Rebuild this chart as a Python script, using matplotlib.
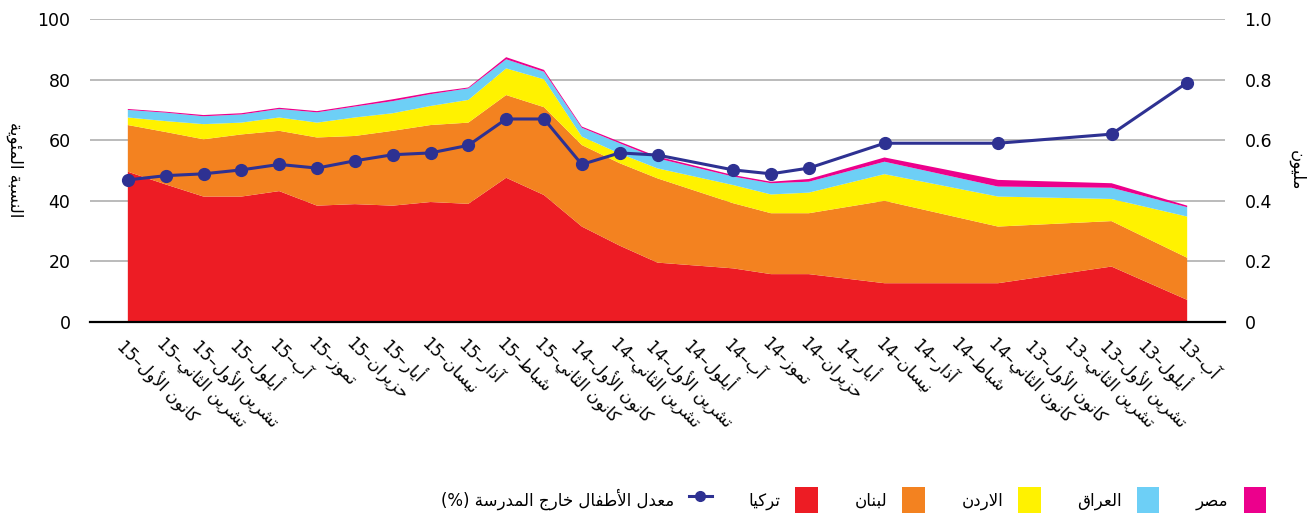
import matplotlib
matplotlib.use("Agg")
import matplotlib.pyplot as plt
from matplotlib.patches import Patch
from matplotlib.lines import Line2D

# ---------------- data ----------------
# all month labels, chronological (Aug-13 ... Dec-15)
months = ["آب–13", "أيلول–13", "تشرين الأول–13", "تشرين الثاني–13", "كانون الأول–13",
          "كانون الثاني–14", "شباط–14", "آذار–14", "نيسان–14", "أيار–14", "حزيران–14",
          "تموز–14", "آب–14", "أيلول–14", "تشرين الأول–14", "تشرين الثاني–14", "كانون الأول–14",
          "كانون الثاني–15", "شباط–15", "آذار–15", "نيسان–15", "أيار–15", "حزيران–15",
          "تموز–15", "آب–15", "أيلول–15", "تشرين الأول–15", "تشرين الثاني–15", "كانون الأول–15"]

# months that carry data
data_months = ["آب–13", "تشرين الأول–13", "كانون الثاني–14", "نيسان–14", "حزيران–14",
               "تموز–14", "آب–14", "تشرين الأول–14", "تشرين الثاني–14", "كانون الأول–14",
               "كانون الثاني–15", "شباط–15", "آذار–15", "نيسان–15", "أيار–15", "حزيران–15",
               "تموز–15", "آب–15", "أيلول–15", "تشرين الأول–15", "تشرين الثاني–15", "كانون الأول–15"]

# number of school-age children (million)
turkey = [0.073, 0.183, 0.128, 0.128, 0.158, 0.158, 0.177, 0.196, 0.252, 0.315, 0.419,
          0.476, 0.390, 0.396, 0.384, 0.389, 0.384, 0.432, 0.414, 0.414, 0.454, 0.496]
lebanon = [0.139, 0.150, 0.187, 0.272, 0.201, 0.201, 0.215, 0.278, 0.272, 0.269, 0.290,
           0.273, 0.268, 0.254, 0.247, 0.225, 0.225, 0.199, 0.205, 0.189, 0.173, 0.154]
jordan = [0.136, 0.073, 0.099, 0.088, 0.068, 0.062, 0.060, 0.033, 0.032, 0.028, 0.092,
          0.088, 0.075, 0.063, 0.058, 0.061, 0.049, 0.044, 0.039, 0.050, 0.036, 0.025]
iraq = [0.031, 0.037, 0.033, 0.041, 0.036, 0.037, 0.028, 0.033, 0.034, 0.029, 0.025,
        0.030, 0.038, 0.039, 0.040, 0.036, 0.034, 0.028, 0.027, 0.026, 0.028, 0.025]
egypt = [0.005, 0.015, 0.022, 0.014, 0.009, 0.005, 0.005, 0.006, 0.005, 0.004, 0.006,
         0.007, 0.003, 0.005, 0.006, 0.004, 0.004, 0.004, 0.004, 0.004, 0.003, 0.003]
# out-of-school rate (%)
rate = [79.0, 62.0, 59.0, 59.0, 50.8, 48.9, 50.2, 55.1, 55.8, 52.0, 67.0,
        67.0, 58.3, 55.8, 55.2, 53.2, 50.8, 52.0, 50.2, 48.9, 48.3, 46.9]

series_names = ["تركيا", "لبنان", "الاردن", "العراق", "مصر"]
series_colors = ["#ed1c24", "#f38220", "#fff200", "#6dcff6", "#ec008c"]
line_name = "معدل الأطفال خارج المدرسة (%)"
left_label = "النسبة المئوية"
right_label = "مليون"
left_ticks = [0, 20, 40, 60, 80, 100]
right_ticks = [0, 0.2, 0.4, 0.6, 0.8, 1.0]
right_ticklabels = ["0", "0.2", "0.4", "0.6", "0.8", "1.0"]

# ---------------- Arabic shaping helpers ----------------
BASE = {'ء': 0xFE80, 'آ': 0xFE81, 'أ': 0xFE83, 'ؤ': 0xFE85, 'إ': 0xFE87, 'ئ': 0xFE89,
        'ا': 0xFE8D, 'ب': 0xFE8F, 'ة': 0xFE93, 'ت': 0xFE95, 'ث': 0xFE99, 'ج': 0xFE9D,
        'ح': 0xFEA1, 'خ': 0xFEA5, 'د': 0xFEA9, 'ذ': 0xFEAB, 'ر': 0xFEAD, 'ز': 0xFEAF,
        'س': 0xFEB1, 'ش': 0xFEB5, 'ص': 0xFEB9, 'ض': 0xFEBD, 'ط': 0xFEC1, 'ظ': 0xFEC5,
        'ع': 0xFEC9, 'غ': 0xFECD, 'ف': 0xFED1, 'ق': 0xFED5, 'ك': 0xFED9, 'ل': 0xFEDD,
        'م': 0xFEE1, 'ن': 0xFEE5, 'ه': 0xFEE9, 'و': 0xFEED, 'ى': 0xFEEF, 'ي': 0xFEF1}
DUAL = set('بتثجحخسشصضطظعغفقكلمنهيئ')
RIGHT = set('آأؤإادذرزوةى')
LAMALEF = {'ا': 0xFEFB, 'أ': 0xFEF7, 'آ': 0xFEF5, 'إ': 0xFEF9}


def shape(s):
    out = []
    i, n = 0, len(s)
    while i < n:
        c = s[i]
        prev = s[i - 1] if i > 0 else ''
        link_prev = prev in DUAL and (c in DUAL or c in RIGHT)
        if c == 'ل' and i + 1 < n and s[i + 1] in LAMALEF:
            out.append(chr(LAMALEF[s[i + 1]] + (1 if link_prev else 0)))
            i += 2
            continue
        if c not in BASE:
            out.append(c)
            i += 1
            continue
        nxt = s[i + 1] if i + 1 < n else ''
        link_next = c in DUAL and (nxt in DUAL or nxt in RIGHT)
        b = BASE[c]
        if c in DUAL:
            if link_prev and link_next:
                ch = b + 3
            elif link_prev:
                ch = b + 1
            elif link_next:
                ch = b + 2
            else:
                ch = b
        elif c in RIGHT:
            ch = b + 1 if link_prev else b
        else:
            ch = b
        out.append(chr(ch))
        i += 1
    return ''.join(out)


def vis(s):
    return shape(s)[::-1]


def vis_month(label):
    name, yy = label.rsplit('–', 1)
    return yy + '–' + vis(name)


def vis_paren(label):
    # "text (%)" -> "(%) txet"
    if label.endswith('(%)'):
        return '(%) ' + vis(label[:-3].strip())
    return vis(label)


# ---------------- plot ----------------
plt.rcParams['font.family'] = ['DejaVu Sans']
fig = plt.figure(figsize=(13.12, 5.15), dpi=100)
ax2 = fig.add_axes([90 / 1312, 1 - 322 / 515, (1225 - 90) / 1312, (322 - 19) / 515])
ax = ax2.twinx()

xs = [months.index(m) for m in data_months]

ax2.stackplot(xs, turkey, lebanon, jordan, iraq, egypt, colors=series_colors, linewidth=0)
ax2.set_ylim(0, 1.0)
ax2.set_yticks(right_ticks)
ax2.set_yticklabels(right_ticklabels)
ax2.yaxis.tick_right()
ax2.grid(axis='y', color='#b5b5b5', linewidth=1.3)
ax2.set_axisbelow(True)

ax.plot(xs, rate, color='#2e3192', linewidth=2.2, marker='o', markersize=8.5, zorder=5)
ax.set_ylim(0, 100)
ax.set_yticks(left_ticks)
ax.yaxis.tick_left()

for a in (ax, ax2):
    for sp in ('top', 'left', 'right'):
        a.spines[sp].set_visible(False)
ax.spines['bottom'].set_visible(False)
ax2.spines['bottom'].set_color('black')
ax2.spines['bottom'].set_linewidth(1.6)
ax2.spines['bottom'].set_zorder(10)

ax.set_zorder(ax2.get_zorder() + 1)
ax.patch.set_visible(False)

ax2.set_xlim(len(months), -1)
ax2.set_xticks(range(len(months)))
ax2.set_xticklabels([vis_month(m) for m in months], rotation=-45, ha='left', va='top',
                    rotation_mode='anchor', fontsize=12)
ax2.tick_params(axis='x', length=0, pad=9)
ax2.tick_params(axis='y', length=0, pad=14, labelsize=12.5)
ax.tick_params(axis='y', length=0, pad=14, labelsize=12.5)
ax.tick_params(axis='x', length=0, labelbottom=False)

fig.text(15 / 1312, 1 - 170 / 515, vis(left_label), rotation=270, ha='center', va='center', fontsize=12)
fig.text(1297 / 1312, 1 - 170 / 515, vis(right_label), rotation=270, ha='center', va='center', fontsize=12)

handles = [Line2D([], [], color='#2e3192', linewidth=2.2, marker='o', markersize=7)]
labels = [vis_paren(line_name)]
for name, col in zip(series_names, series_colors):
    handles.append(Patch(facecolor=col, edgecolor='none'))
    labels.append(vis(name))

fig.legend(handles, labels, loc='center right', bbox_to_anchor=(1266 / 1312, 1 - 500 / 515),
           ncol=6, frameon=False, markerfirst=False, fontsize=12, handlelength=1.35,
           handleheight=1.95, handletextpad=0.9, columnspacing=2.2, borderaxespad=0, borderpad=0)

fig.savefig('out.png', dpi=100)
